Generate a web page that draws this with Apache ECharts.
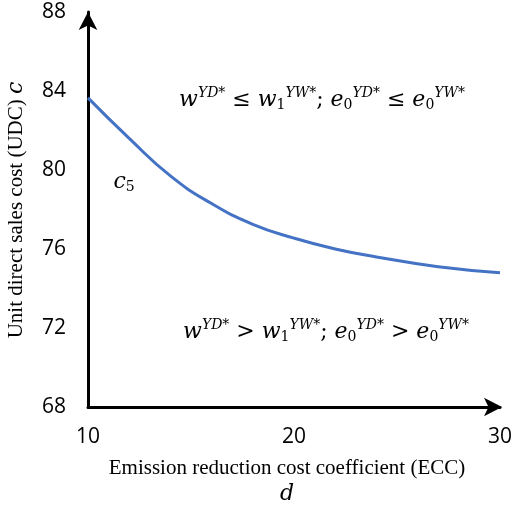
<!DOCTYPE html>
<html><head><meta charset="utf-8">
<script src="https://cdn.jsdelivr.net/npm/echarts@6/dist/echarts.min.js"></script>
<style>html,body{margin:0;padding:0;background:#fff}#c{width:520px;height:507px}</style>
</head><body><div id="c"></div>
<script>
// curve c5
var eccX = [10, 12, 14, 16, 18, 20, 22, 24, 27, 30];
var udcY = [83.65, 81.6, 79.7, 78.3, 77.25, 76.55, 76.0, 75.6, 75.1, 74.8];
var yTicks = [68, 72, 76, 80, 84, 88];
var xTicks = [10, 20, 30];

var pts = eccX.map(function (x, i) { return [x, udcY[i]]; });
var chart = echarts.init(document.getElementById('c'));

var mathRich = {
  m: { fontFamily: 'DejaVu Serif', fontStyle: 'italic', fontSize: 22, color: '#000' },
  o: { fontFamily: 'DejaVu Serif', fontSize: 22, color: '#000' },
  t: { fontFamily: 'Liberation Serif', fontSize: 21, color: '#000' },
  sup: { fontFamily: 'DejaVu Serif', fontStyle: 'italic', fontSize: 14, color: '#000', padding: [0, 0, 14, 0] },
  sub: { fontFamily: 'DejaVu Serif', fontSize: 14, color: '#000', padding: [10, 0, 0, 0] }
};
function mathLine(op) {
  return '{m|w}{sup|YD*}{o| ' + op + ' }{m|w}{sub|1}{sup|YW*}{o|; }{m|e}{sub|0}{sup|YD*}{o| ' + op + ' }{m|e}{sub|0}{sup|YW*}';
}

chart.setOption({
  animation: false,
  grid: { left: 88, right: 20, top: 12, bottom: 100 },
  xAxis: {
    type: 'value', min: 10, max: 30, interval: 10,
    axisLine: { lineStyle: { color: '#000', width: 3 }, symbol: ['none', 'arrow'], symbolSize: [14, 18], symbolOffset: [0, 2] },
    axisTick: { show: false }, splitLine: { show: false },
    axisLabel: { fontFamily: 'Open Sans', fontSize: 21, color: '#000', margin: 20 }
  },
  yAxis: {
    type: 'value', min: 68, max: 88, interval: 4,
    axisLine: { lineStyle: { color: '#000', width: 3 }, symbol: ['none', 'arrow'], symbolSize: [14, 18] },
    axisTick: { show: false }, splitLine: { show: false },
    axisLabel: { fontFamily: 'Open Sans', fontSize: 21, color: '#000', margin: 22 }
  },
  graphic: [
    { type: 'text', x: 16, y: 210, rotation: Math.PI / 2,
      style: { rich: mathRich, text: '{t|Unit direct sales cost (UDC) }{m|c}', align: 'center', verticalAlign: 'middle' } },
    { type: 'text', x: 287, y: 468,
      style: { text: 'Emission reduction cost coefficient (ECC)', font: '21px "Liberation Serif"', fill: '#000', align: 'center', verticalAlign: 'middle' } },
    { type: 'text', x: 287, y: 494,
      style: { text: 'd', font: 'italic 22px "DejaVu Serif"', fill: '#000', align: 'center', verticalAlign: 'middle' } },
    { type: 'text', x: 322, y: 100,
      style: { rich: mathRich, text: mathLine('≤'), align: 'center', verticalAlign: 'middle' } },
    { type: 'text', x: 326, y: 332,
      style: { rich: mathRich, text: mathLine('>'), align: 'center', verticalAlign: 'middle' } },
    { type: 'text', x: 124, y: 182,
      style: { rich: mathRich, text: '{m|c}{sub|5}', align: 'center', verticalAlign: 'middle' } }
  ],
  series: [{
    type: 'line', data: pts, smooth: true, showSymbol: false,
    lineStyle: { color: '#4472C4', width: 3 }
  }]
});
</script>
</body></html>
